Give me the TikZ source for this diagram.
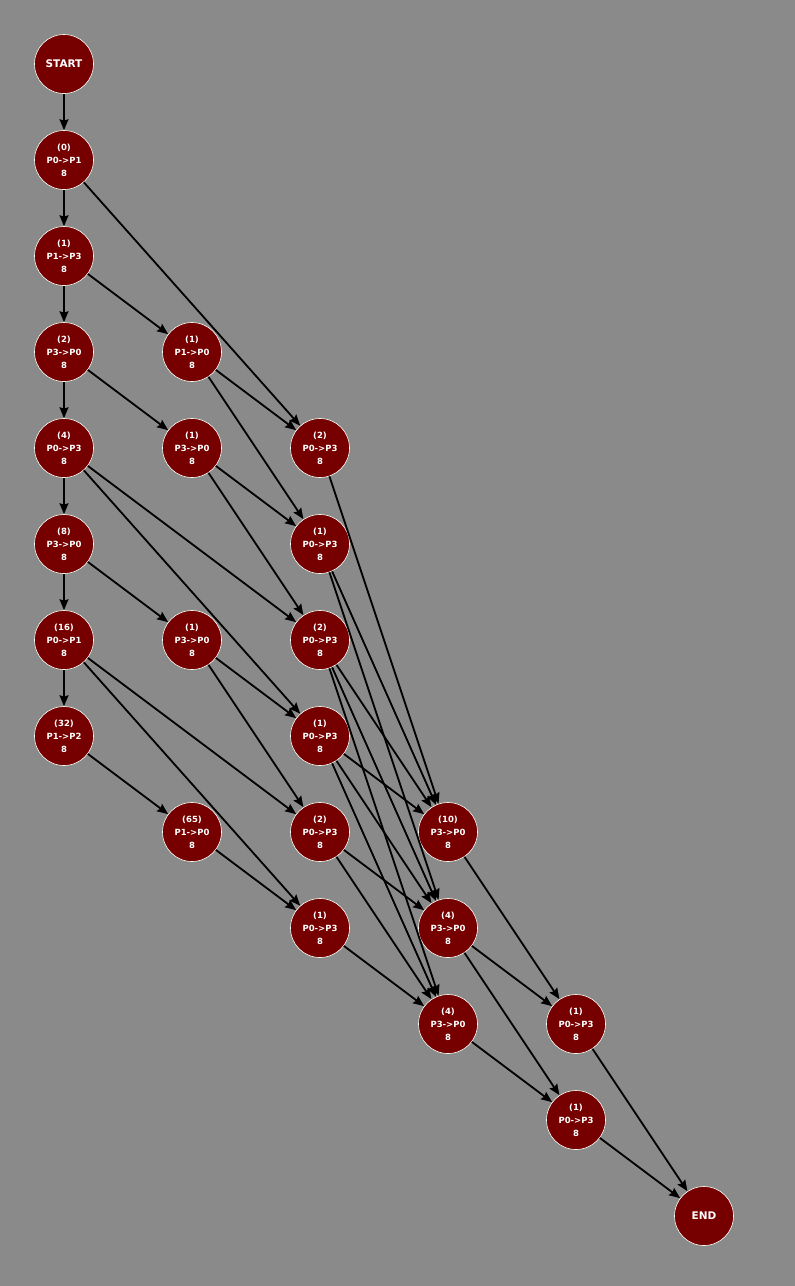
\documentclass[tikz,border=0pt]{standalone}
\usepackage{fontspec}
\setmainfont{DejaVu Sans}
\usepackage{xcolor}
\usepackage{tikz}
\usetikzlibrary{arrows.meta}

\definecolor{bggray}{RGB}{138,138,138}
\definecolor{opred}{RGB}{118,0,0}

\begin{document}
\begin{tikzpicture}[
    x=1pt, y=-1pt,
    >={Stealth[length=11pt,width=9pt,inset=1.5pt]},
    op/.style={
        circle,
        draw=white,
        line width=0.6pt,
        fill=opred,
        text=white,
        minimum size=59pt,
        inner sep=0pt,
        align=center,
        font=\fontsize{8.5}{13}\selectfont\bfseries
    },
    term/.style={
        op,
        font=\fontsize{10.5}{12}\selectfont\bfseries
    },
    flow/.style={
        ->,
        line width=1.8pt,
        draw=black
    }
]

% --- Canvas --------------------------------------------------------------------

\fill[bggray] (0,0) rectangle (795,1286);
\useasboundingbox (0,0) rectangle (795,1286);

% --- First column --------------------------------------------------------------

\node[term] (start) at (64,64) {START};
\node[op] (a0) at (64,160) {(0)\\P0->P1\\8};
\node[op] (a1) at (64,256) {(1)\\P1->P3\\8};
\node[op] (a2) at (64,352) {(2)\\P3->P0\\8};
\node[op] (a3) at (64,448) {(4)\\P0->P3\\8};
\node[op] (a4) at (64,544) {(8)\\P3->P0\\8};
\node[op] (a5) at (64,640) {(16)\\P0->P1\\8};
\node[op] (a6) at (64,736) {(32)\\P1->P2\\8};

% --- Second column -------------------------------------------------------------

\node[op] (b0) at (192,352) {(1)\\P1->P0\\8};
\node[op] (b1) at (192,448) {(1)\\P3->P0\\8};
\node[op] (b2) at (192,640) {(1)\\P3->P0\\8};
\node[op] (b3) at (192,832) {(65)\\P1->P0\\8};

% --- Third column --------------------------------------------------------------

\node[op] (c0) at (320,448) {(2)\\P0->P3\\8};
\node[op] (c1) at (320,544) {(1)\\P0->P3\\8};
\node[op] (c2) at (320,640) {(2)\\P0->P3\\8};
\node[op] (c3) at (320,736) {(1)\\P0->P3\\8};
\node[op] (c4) at (320,832) {(2)\\P0->P3\\8};
\node[op] (c5) at (320,928) {(1)\\P0->P3\\8};

% --- Last columns --------------------------------------------------------------

\node[op] (d0) at (448,832) {(10)\\P3->P0\\8};
\node[op] (d1) at (448,928) {(4)\\P3->P0\\8};
\node[op] (d2) at (448,1024) {(4)\\P3->P0\\8};

\node[op] (e0) at (576,1024) {(1)\\P0->P3\\8};
\node[op] (e1) at (576,1120) {(1)\\P0->P3\\8};

\node[term] (end) at (704,1216) {END};

% --- Arrows --------------------------------------------------------------------

\draw[flow] (start) -- (a0);
\draw[flow] (a0) -- (a1);
\draw[flow] (a1) -- (a2);
\draw[flow] (a2) -- (a3);
\draw[flow] (a3) -- (a4);
\draw[flow] (a4) -- (a5);
\draw[flow] (a5) -- (a6);

\draw[flow] (a0) -- (c0);
\draw[flow] (a1) -- (b0);
\draw[flow] (a2) -- (b1);
\draw[flow] (a3) -- (c2);
\draw[flow] (a3) -- (c3);
\draw[flow] (a4) -- (b2);
\draw[flow] (a5) -- (c4);
\draw[flow] (a5) -- (c5);
\draw[flow] (a6) -- (b3);

\draw[flow] (b0) -- (c0);
\draw[flow] (b0) -- (c1);
\draw[flow] (b1) -- (c1);
\draw[flow] (b1) -- (c2);
\draw[flow] (b2) -- (c3);
\draw[flow] (b2) -- (c4);
\draw[flow] (b3) -- (c5);

\draw[flow] (c0) -- (d0);
\draw[flow] (c1) -- (d0);
\draw[flow] (c1) -- (d1);
\draw[flow] (c2) -- (d0);
\draw[flow] (c2) -- (d1);
\draw[flow] (c2) -- (d2);
\draw[flow] (c3) -- (d0);
\draw[flow] (c3) -- (d1);
\draw[flow] (c3) -- (d2);
\draw[flow] (c4) -- (d1);
\draw[flow] (c4) -- (d2);
\draw[flow] (c5) -- (d2);

\draw[flow] (d0) -- (e0);
\draw[flow] (d1) -- (e0);
\draw[flow] (d1) -- (e1);
\draw[flow] (d2) -- (e1);

\draw[flow] (e0) -- (end);
\draw[flow] (e1) -- (end);

\end{tikzpicture}
\end{document}
